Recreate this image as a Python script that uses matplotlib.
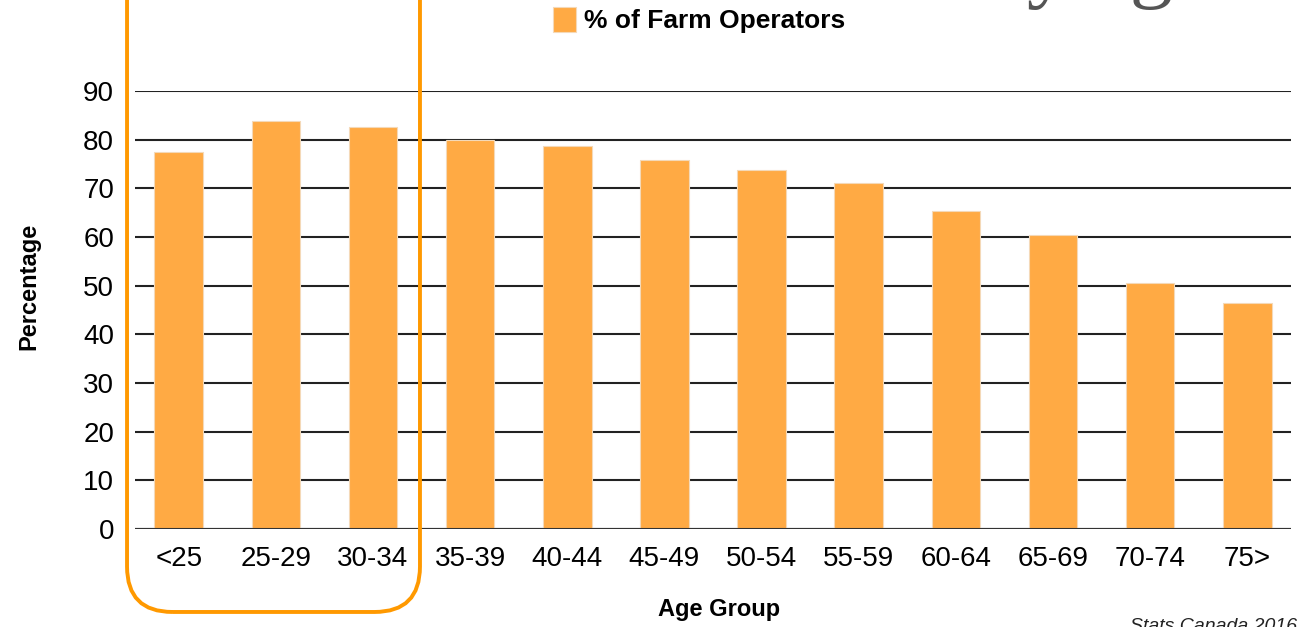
import matplotlib.pyplot as plt
from matplotlib.patches import FancyBboxPatch

age_groups = ['<25', '25-29', '30-34', '35-39', '40-44', '45-49',
              '50-54', '55-59', '60-64', '65-69', '70-74', '75>']
pct_operators = [77.5, 83.8, 82.6, 79.9, 78.7, 75.8,
                 73.8, 71.1, 65.3, 60.5, 50.5, 46.5]
y_ticks = [0, 10, 20, 30, 40, 50, 60, 70, 80, 90]

plt.rcParams['font.family'] = ['Liberation Sans', 'DejaVu Sans']

fig = plt.figure(figsize=(12.97, 6.27), dpi=100)
ax = fig.add_axes([135 / 1297, 1 - 529 / 627, 1156 / 1297, 438 / 627])

x = range(len(age_groups))
ax.bar(x, pct_operators, width=0.5, color='#FFAA44', edgecolor='#F4D9B8',
       linewidth=0.8, zorder=3, label='% of Farm Operators')

ax.set_xlim(-0.45, len(age_groups) - 0.55)
ax.set_ylim(0, 90)
ax.set_yticks(y_ticks)
ax.set_xticks(list(x))
ax.set_xticklabels(age_groups)
ax.yaxis.grid(True, color='#222222', linewidth=1.5, zorder=1)
ax.set_axisbelow(True)
for s in ax.spines.values():
    s.set_visible(False)
ax.tick_params(axis='both', length=0, labelsize=20)
ax.tick_params(axis='y', pad=15)
ax.tick_params(axis='x', pad=12)
ax.axhline(0, color='#333333', linewidth=1.5, zorder=4)

ax.set_xlabel('Age Group', fontsize=17, fontweight='bold')
ax.set_ylabel('Percentage', fontsize=17, fontweight='bold')
ax.xaxis.set_label_coords(0.505, -0.157)
ax.yaxis.set_label_coords(-0.0815, 0.555)

ax.legend(loc='center', bbox_to_anchor=(0.488, 1.162), frameon=False,
          prop={'size': 19, 'weight': 'bold'}, handlelength=0.9,
          handleheight=1.1, handletextpad=0.3)

# highlight box around the youngest groups
box = FancyBboxPatch((140 / 1297, 1 - 599 / 627), 267 / 1297, 640 / 627,
                     boxstyle='round,pad=0.01,rounding_size=0.035',
                     transform=fig.transFigure, fill=False,
                     edgecolor='#FF9900', linewidth=2.8, clip_on=False,
                     mutation_aspect=1297 / 627)
fig.add_artist(box)

# slide title, cut off at the top
fig.text(0.759, 1.014, 'by age', fontsize=62, color='#555555',
         family='Liberation Serif', ha='left', va='baseline')
fig.text(0.871, -0.012, 'Stats Canada 2016', fontsize=14, style='italic',
         ha='left', va='bottom', color='#222222')

fig.savefig('out.png', dpi=100)
